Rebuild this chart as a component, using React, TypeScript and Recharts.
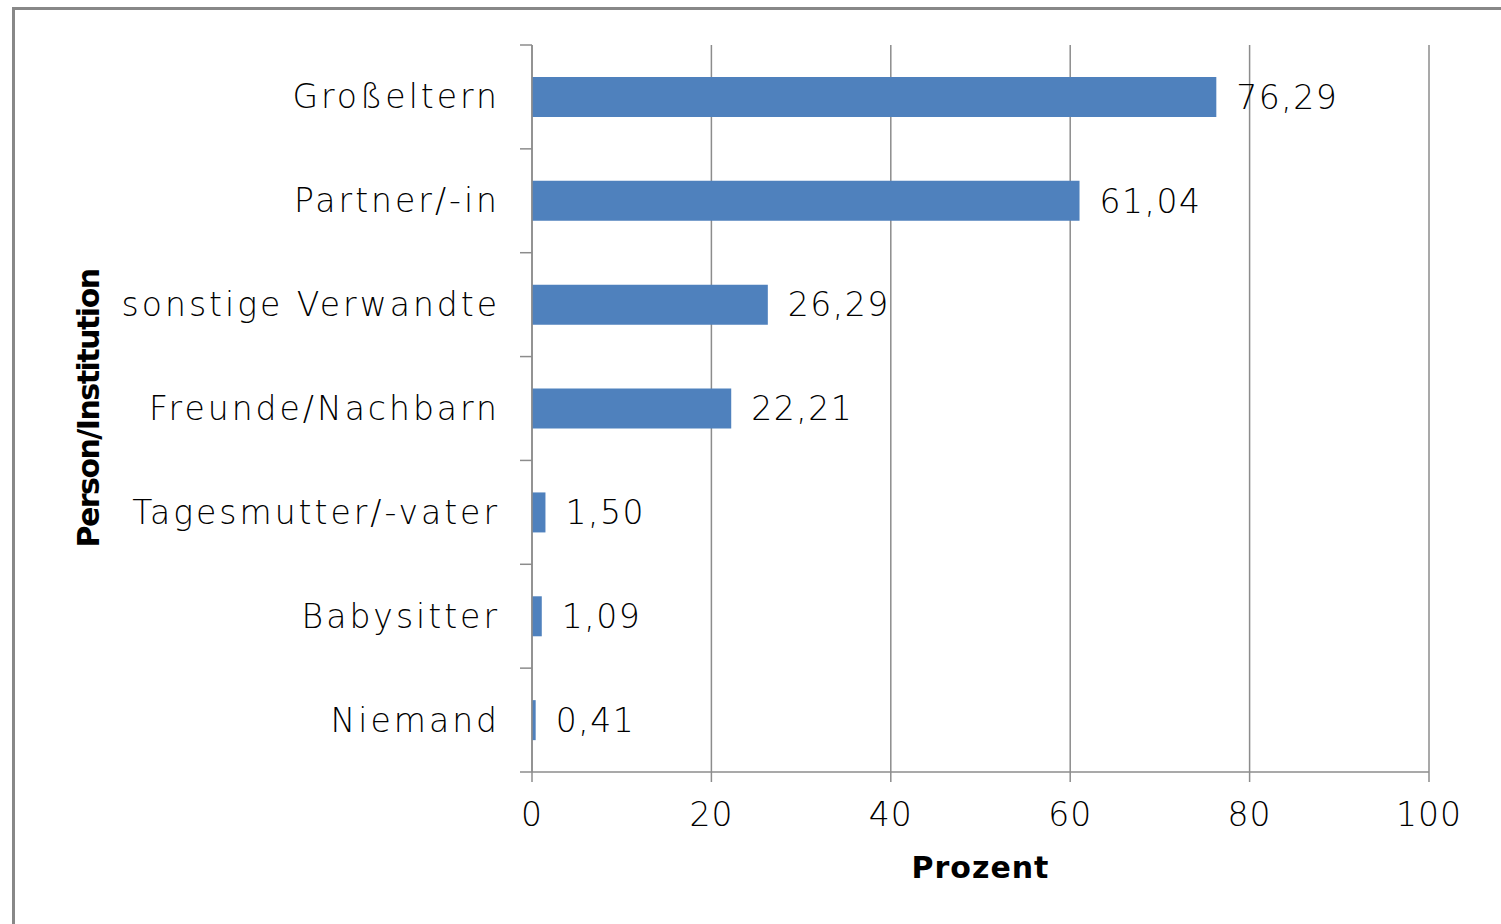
import { BarChart, Bar, XAxis, YAxis, CartesianGrid, LabelList, Label } from 'recharts';

const categories = ['Großeltern', 'Partner/-in', 'sonstige Verwandte', 'Freunde/Nachbarn', 'Tagesmutter/-vater', 'Babysitter', 'Niemand'];
const values = [76.29, 61.04, 26.29, 22.21, 1.5, 1.09, 0.41];
const xTicks = [0, 20, 40, 60, 80, 100];

const FONT = '"DejaVu Sans", sans-serif';
const AXIS_GRAY = '#8c8c8c';
const BAR_BLUE = '#4f81bd';

const data = categories.map((name, i) => ({ name, value: values[i] }));

const fmt = (v: any) => Number(v).toFixed(2).replace('.', ',');

// category ticks: label in the middle, tick marks on the band edges (Excel style)
function CategoryTick(props: any) {
  const { x, y, payload, index } = props;
  const half = payload?.offset ?? 52;
  const axisX = x + 35;
  const last = index === categories.length - 1;
  return (
    <g>
      <line x1={axisX - 12} x2={axisX} y1={y - half} y2={y - half} stroke={AXIS_GRAY} strokeWidth={1.5} />
      {last && <line x1={axisX - 12} x2={axisX} y1={y + half} y2={y + half} stroke={AXIS_GRAY} strokeWidth={1.5} />}
      <text x={x + 3} y={y} textAnchor="end" dominantBaseline="central" fontFamily={FONT} fontWeight={200} fontSize={33} letterSpacing={3} fill="#000">
        {payload.value}
      </text>
    </g>
  );
}

export default function App() {
  return (
    <div style={{ position: 'absolute', left: 0, top: 0, width: 1501, height: 924, background: '#fff', overflow: 'hidden' }}>
      <div style={{ position: 'absolute', left: 12, top: 7, width: 1600, height: 1000, border: '3px solid #888', boxSizing: 'border-box' }} />
      <div style={{ position: 'absolute', left: 0, top: 0 }}>
        <BarChart
          width={1501}
          height={924}
          data={data}
          layout="vertical"
          margin={{ top: 45, right: 72, bottom: 32, left: 0 }}
        >
          <CartesianGrid horizontal={false} stroke={AXIS_GRAY} strokeWidth={1.5} />
          <XAxis
            type="number"
            domain={[0, 100]}
            ticks={xTicks}
            interval={0}
            height={120}
            axisLine={{ stroke: AXIS_GRAY, strokeWidth: 1.5 }}
            tickLine={{ stroke: AXIS_GRAY, strokeWidth: 1.5 }}
            tickSize={10}
            tickMargin={21}
            tick={{ fontFamily: FONT, fontWeight: 200, fontSize: 33, letterSpacing: 1, fill: '#000' }}
          >
            <Label
              content={(p: any) => (
                <text
                  x={p.viewBox.x + p.viewBox.width / 2}
                  y={p.viewBox.y + 95}
                  textAnchor="middle"
                  dominantBaseline="central"
                  fontFamily={FONT}
                  fontWeight="bold"
                  fontSize={30}
                  letterSpacing={1}
                  fill="#000"
                >
                  Prozent
                </text>
              )}
            />
          </XAxis>
          <YAxis
            type="category"
            dataKey="name"
            width={532}
            interval={0}
            axisLine={{ stroke: AXIS_GRAY, strokeWidth: 1.5 }}
            tickLine={false}
            tickSize={12}
            tickMargin={23}
            tick={<CategoryTick />}
          >
            <Label
              content={(p: any) => (
                <text
                  x={p.viewBox.x + 88}
                  y={p.viewBox.y + p.viewBox.height / 2}
                  textAnchor="middle"
                  dominantBaseline="central"
                  fontFamily={FONT}
                  fontWeight="bold"
                  fontSize={30}
                  letterSpacing={-1.5}
                  fill="#000"
                  transform={`rotate(-90, ${p.viewBox.x + 88}, ${p.viewBox.y + p.viewBox.height / 2})`}
                >
                  Person/Institution
                </text>
              )}
            />
          </YAxis>
          <Bar dataKey="value" fill={BAR_BLUE} barSize={40} isAnimationActive={false}>
            <LabelList
              dataKey="value"
              position="right"
              offset={20}
              formatter={fmt}
              fontFamily={FONT}
              fontWeight={200}
              fontSize={33}
              letterSpacing={1.5}
              fill="#000"
            />
          </Bar>
        </BarChart>
      </div>
    </div>
  );
}
